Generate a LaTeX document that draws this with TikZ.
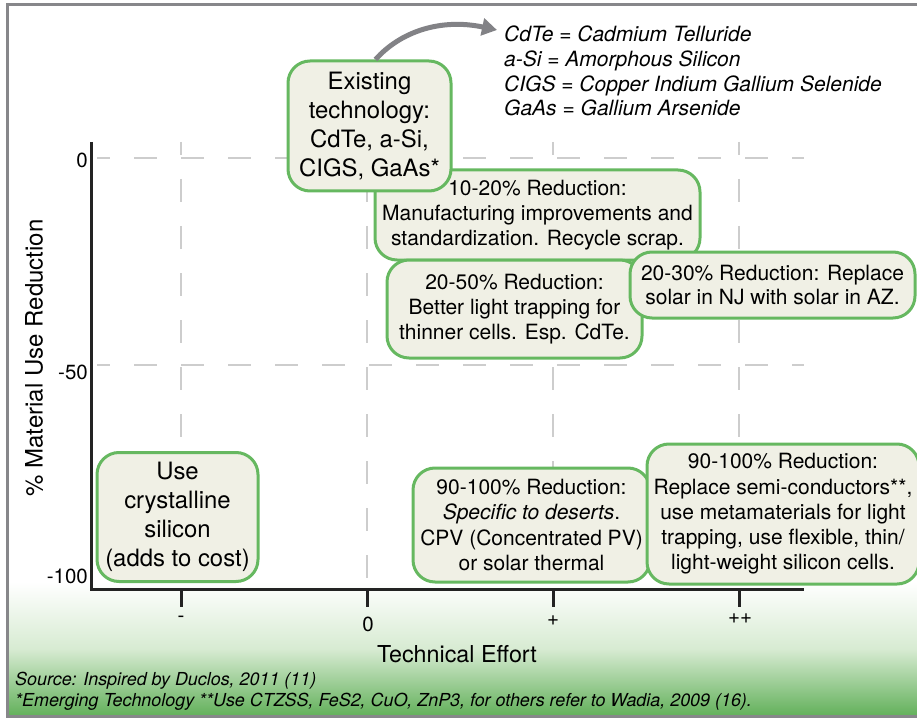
\documentclass[tikz,border=0pt]{standalone}
\usepackage{fontspec}
\setmainfont{TeX Gyre Heros}
\usetikzlibrary{arrows.meta}
\definecolor{boxfill}{RGB}{240,240,229}
\definecolor{boxline}{RGB}{102,184,96}
\definecolor{gridc}{RGB}{205,205,205}
\definecolor{axisc}{RGB}{35,35,35}
\definecolor{framec}{RGB}{135,135,138}
\definecolor{arrowc}{RGB}{130,130,134}
\definecolor{greenbot}{RGB}{98,176,90}
\definecolor{greenmid}{RGB}{215,235,210}
\begin{document}
\begin{tikzpicture}[x=1pt,y=-1pt,
  infobox/.style={draw=boxline, fill=boxfill, line width=3pt, rounded corners=22pt,
    align=center, inner sep=0pt, text=black},
  bigtxt/.style={font=\fontsize{23.9}{29}\selectfont},
  midtxt/.style={font=\fontsize{21}{24.7}\selectfont},
  gridline/.style={draw=gridc, line width=2.5pt, dash pattern=on 23pt off 24pt, dash phase=10pt},
  axisline/.style={draw=axisc, line width=3pt},
  ticklbl/.style={font=\fontsize{20.5}{24}\selectfont, text=black, inner sep=0pt},
  legendtxt/.style={font=\fontsize{21}{24.7}\itshape\selectfont, align=left, anchor=north west, inner sep=0pt},
  srctxt/.style={font=\fontsize{17.9}{21.5}\itshape\selectfont, anchor=west, inner sep=0pt}
]
\useasboundingbox (0,0) rectangle (917,719);
% bottom gradient
\shade[top color=white, bottom color=greenbot, middle color=greenmid] (8,582) rectangle (917,716);
% frame
\draw[framec, line width=3pt] (917,4.5) -- (7,4.5) -- (7,716.5) -- (917,716.5);

% grid
\foreach \gx in {181,367,553,739} \draw[gridline] (\gx,142) -- (\gx,589);
\foreach \gy in {158,365} \draw[gridline] (97,\gy) -- (804,\gy);

% axes
\coordinate (ytop) at (91,142);
\coordinate (orig) at (91,589);
\coordinate (xend) at (804,589);
\draw[axisline] (ytop) -- (orig) -- (xend);
\foreach \gx in {181,367,553,739} \draw[axisline] (\gx,589) -- (\gx,607);

% tick labels
\node[ticklbl] (t1) at (181,619) {-};
\node[ticklbl] (t2) at (368,624) {0};
\node[ticklbl] (t3) at (553,621) {+};
\node[ticklbl] (t4) at (740,619) {++};
\node[ticklbl, anchor=east] (y0) at (88,160) {0};
\node[ticklbl, anchor=east] (y50) at (88,372) {-50};
\node[ticklbl, anchor=east] (y100) at (88,576) {-100};

% axis titles
\node[font=\fontsize{23.3}{28}\selectfont, inner sep=0pt] (xlab) at (457,654) {Technical Effort};
\node[font=\fontsize{24}{28}\selectfont, inner sep=0pt, rotate=90] (ylab) at (34,358) {\% Material Use Reduction};

% source
\node[srctxt] (src1) at (15,681) {Source: Inspired by Duclos, 2011 (11)};
\node[srctxt] (src2) at (15,702) {*Emerging Technology **Use CTZSS, FeS2, CuO, ZnP3, for others refer to Wadia, 2009 (16).};

% legend
\node[legendtxt] (legend) at (504,26) {CdTe = Cadmium Telluride\\a-Si = Amorphous Silicon\\CIGS = Copper Indium Gallium Selenide\\GaAs = Gallium Arsenide};

% boxes
\node[infobox, midtxt, minimum width=325pt, minimum height=90pt] (b1020) at (537.5,215) {10-20\% Reduction:\\Manufacturing improvements and\\standardization. Recycle scrap.};
\node[infobox, midtxt, minimum width=255pt, minimum height=98pt] (b2050) at (514.5,309) {20-50\% Reduction:\\Better light trapping for\\thinner cells. Esp. CdTe.};
\node[infobox, midtxt, minimum width=285pt, minimum height=66pt] (b2030) at (772.5,285) {20-30\% Reduction: Replace\\solar in NJ with solar in AZ.};
\node[infobox, bigtxt, minimum width=163pt, minimum height=130pt] (exist) at (369.5,126) {Existing\\technology:\\CdTe, a-Si,\\CIGS, GaAs*};
\node[infobox, bigtxt, minimum width=161pt, minimum height=129pt] (cryst) at (177.5,517) {Use\\crystalline\\silicon\\(adds to cost)};
\node[infobox, midtxt, minimum width=237pt, minimum height=114pt, font=\fontsize{21}{25.3}\selectfont] (desert) at (531.5,525) {90-100\% Reduction:\\\textit{Specific to deserts}.\\CPV (Concentrated PV)\\or solar thermal};
\node[infobox, midtxt, minimum width=272pt, minimum height=140pt, font=\fontsize{21}{25.2}\selectfont] (repl) at (783,514) {90-100\% Reduction:\\Replace semi-conductors**,\\use metamaterials for light\\trapping, use flexible, thin/\\light-weight silicon cells.};

% arrow
\coordinate (atip) at (497,30);
\draw[arrowc, line width=5pt, -{Triangle[length=15pt,width=17pt]}] ([xshift=6pt]exist.north) .. controls (400,32) and (440,18) .. (atip);
\end{tikzpicture}
\end{document}
